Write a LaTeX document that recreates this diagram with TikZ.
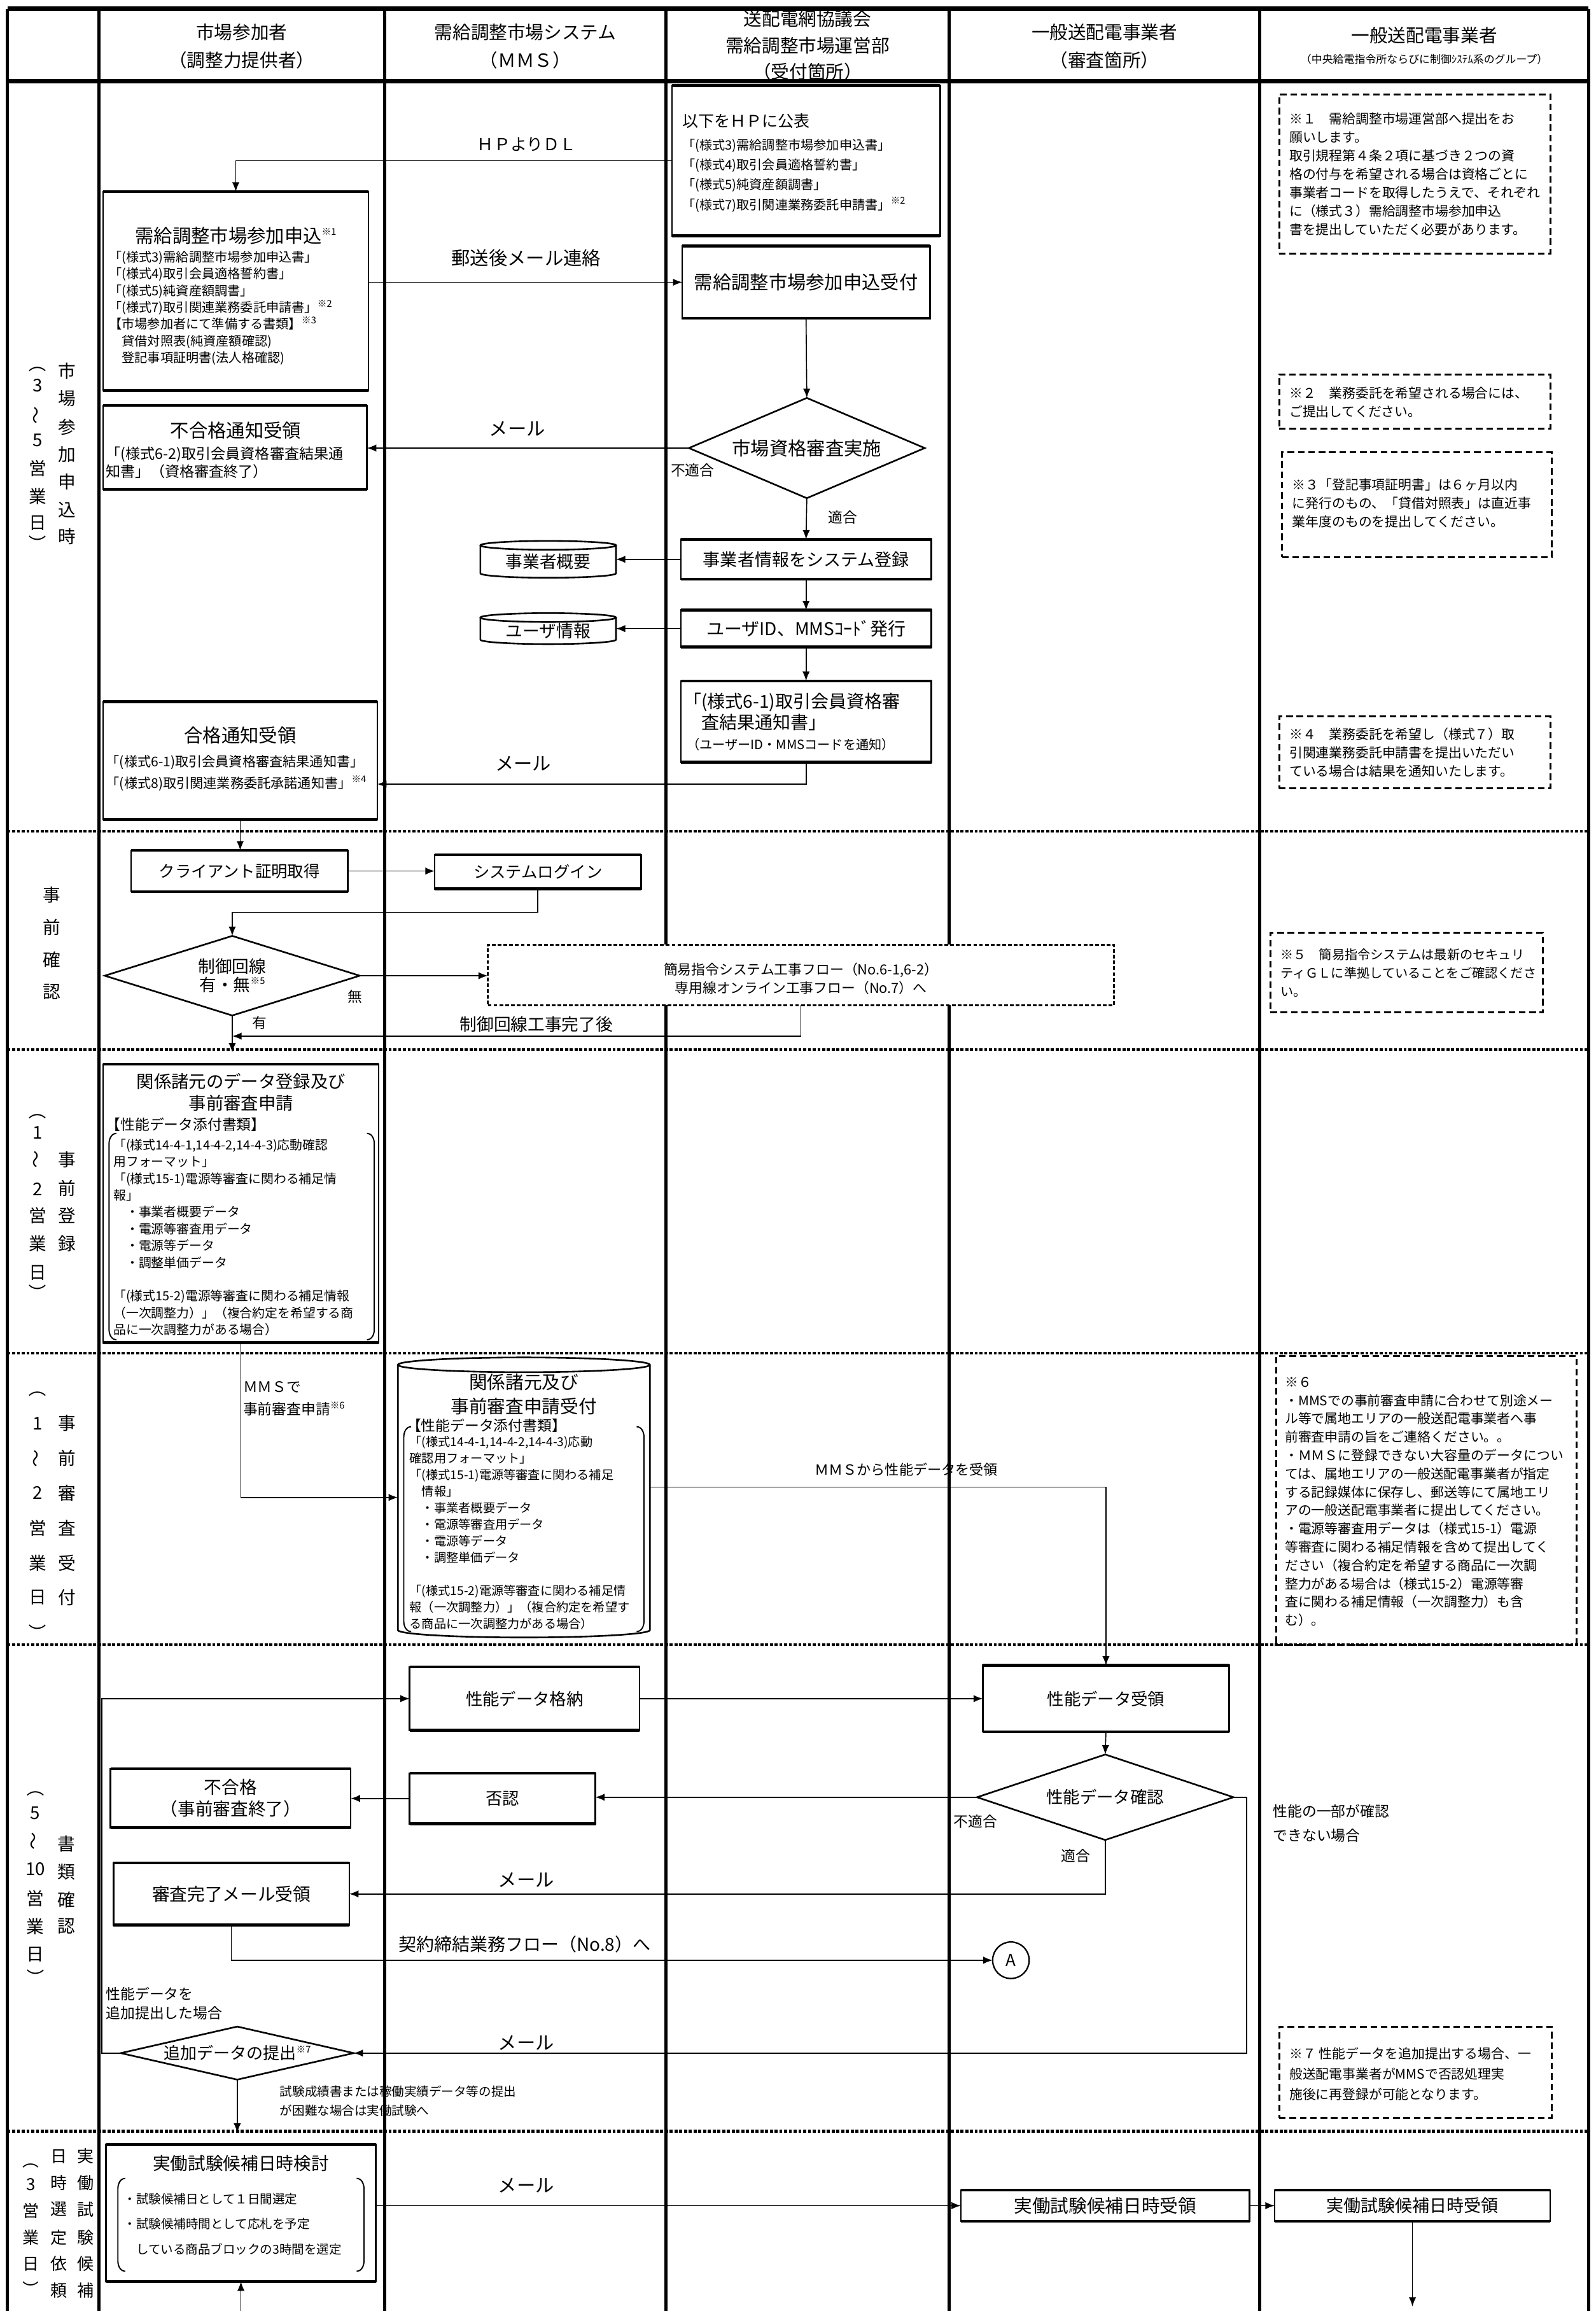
\documentclass[tikz,border=0pt]{standalone}
\usepackage{fontspec}
\setmainfont{Noto Sans CJK JP}
\usetikzlibrary{shapes.geometric,arrows.meta,fit,calc}
\newcommand\fsz[2]{\fontsize{#1}{#2}\selectfont}
\newcommand\supnote[1]{\raisebox{0.75ex}{\fontsize{4.5}{5}\selectfont #1}}
\newcommand\vtil{\rotatebox[origin=c]{90}{～}}
\newcommand\vop{\rotatebox[origin=c]{-90}{（}}
\newcommand\vcp{\rotatebox[origin=c]{-90}{）}}
\newcommand\drawcyl[3]{%
  \draw[cyl] (#1.north west) -- (#1.south west) arc[start angle=180,end angle=360,x radius=#2,y radius=#3] -- (#1.north east);
  \draw[cyl] (#1.north) ellipse[x radius=#2,y radius=#3];}
\newcommand\drawbrk[4]{%
  \draw[brk] (#1+5,#2) to[out=180,in=90] (#1,#2+7) -- (#1,#4-7) to[out=-90,in=180] (#1+5,#4);
  \draw[brk] (#3-5,#2) to[out=0,in=90] (#3,#2+7) -- (#3,#4-7) to[out=-90,in=0] (#3-5,#4);}
\newcommand\vcol[4]{\foreach \c/\y [count=\i] in {#4} \node[#3] (#1\i) at (#2,\y) {\c};}
\begin{document}
\begin{tikzpicture}[x=0.25mm, y=-0.25mm,
 every node/.style={inner sep=0pt, outer sep=0pt},
 box/.style={draw, line width=0.8pt},
 note/.style={draw, line width=0.9pt, dash pattern=on 3.2pt off 1.8pt},
 note2/.style={draw, fill=white, line width=0.9pt, dash pattern=on 1.8pt off 1pt},
 conn/.style={line width=0.5pt, -{Latex[length=4.5pt,width=3.5pt]}},
 cyl/.style={line width=0.8pt},
 brk/.style={line width=0.6pt},
 colline/.style={line width=1.5pt},
 hdr/.style={line width=2.2pt},
 sepl/.style={line width=1.3pt, dash pattern=on 1.5pt off 0.8pt},
 dia/.style={diamond, draw, line width=0.8pt, align=center},
 lt/.style={anchor=west, align=left},
 vl/.style={font=\fsz{8.5}{9}},
 vls/.style={font=\fsz{8}{9}},
 hd/.style={font=\fsz{8.8}{10}},
]
\fill[white] (0,0) rectangle (1083,1568);
\useasboundingbox (0,0) rectangle (1083,1568);
\clip (0,0) rectangle (1083,1568);

% ---------- frame ----------
\foreach \x in {5,67,261,452,644,855,1078} \draw[colline] (\x,6) -- (\x,1568);
\draw[hdr] (5,6) -- (1078,6);
\draw[hdr] (5,55) -- (1078,55);
\foreach \y in {564,712,918,1116,1446} \draw[sepl] (5,\y) -- (1078,\y);

% ---------- header ----------
\node[hd] (h1a) at (164,22) {市場参加者};
\node[hd] (h1b) at (164,41) {（調整力提供者）};
\node[hd] (h2a) at (356.5,22) {需給調整市場システム};
\node[hd] (h2b) at (356.5,41) {（ＭＭＳ）};
\node[hd] (h3a) at (548,13) {送配電網協議会};
\node[hd] (h3b) at (548,31) {需給調整市場運営部};
\node[hd] (h3c) at (548,48.5) {（受付箇所）};
\node[hd] (h4a) at (749.5,22) {一般送配電事業者};
\node[hd] (h4b) at (749.5,41) {（審査箇所）};
\node[hd] (h5a) at (966.5,24) {一般送配電事業者};
\node[font=\fsz{5.2}{6}] (h5b) at (966.5,40) {（中央給電指令所ならびに制御ｼｽﾃﾑ系のグループ）};

% ---------- vertical labels ----------
\vcol{va}{25.7}{vl}{{\vop}/246.6, 3/261.5, {\vtil}/282, 5/298.6, 営/317.7, 業/336.8, 日/355, {\vcp}/369}
\vcol{vb}{45.4}{vl}{市/251.6, 場/270.6, 参/289.6, 加/308.6, 申/326.8, 込/345.8, 時/364}
\vcol{vc}{35}{vl}{事/607, 前/629, 確/651, 認/673}
\vcol{vd}{25.7}{vl}{{\vop}/753.5, 1/768.6, {\vtil}/786.5, 2/807, 営/824.7, 業/844, 日/863.6, {\vcp}/877}
\vcol{ve}{45.4}{vl}{事/787, 前/806, 登/824.7, 録/844}
\vcol{vf}{25.7}{vl}{{\vop}/942, 1/965.7, {\vtil}/989.4, 2/1013, 営/1036.8, 業/1060.5, 日/1084, {\vcp}/1108}
\vcol{vg}{45.4}{vl}{事/965.7, 前/989.4, 審/1013, 査/1036.8, 受/1060.5, 付/1084}
\vcol{vh}{24}{vl}{{\vop}/1213, 5/1230, {\vtil}/1249, 10/1268, 営/1288, 業/1307, 日/1326, {\vcp}/1342}
\vcol{vi}{45}{vl}{書/1251, 類/1270, 確/1289, 認/1307}
\vcol{vj}{21}{vls}{{\vop}/1466, 3/1482, 営/1500, 業/1518, 日/1536, {\vcp}/1553}
\vcol{vk}{40}{vls}{日/1463, 時/1481, 選/1499, 定/1518, 依/1536, 頼/1554}
\vcol{vm}{58}{vls}{実/1463, 働/1481, 試/1499, 験/1518, 候/1536, 補/1554}

% ---------- section 1 ----------
\node[box, fit={(456,58) (638,160)}] (b1) {};
\node[lt, font=\fsz{7.7}{9}] (b1t) at (463,82) {以下をＨＰに公表};
\node[lt, font=\fsz{6.2}{9.6}] (b1l) at (463,119) {「(様式3)需給調整市場参加申込書」\\「(様式4)取引会員適格誓約書」\\「(様式5)純資産額調書」\\「(様式7)取引関連業務委託申請書」\supnote{※2}};

\node[box, fit={(70,130) (250,265)}] (b2) {};
\node[font=\fsz{9}{11}] (b2t) at (160,160) {需給調整市場参加申込\supnote{※1}};
\node[lt, font=\fsz{6.2}{8.1}] (b2l) at (74,209) {「(様式3)需給調整市場参加申込書」\\「(様式4)取引会員適格誓約書」\\「(様式5)純資産額調書」\\「(様式7)取引関連業務委託申請書」\supnote{※2}\\【市場参加者にて準備する書類】\supnote{※3}\\　貸借対照表(純資産額確認)\\　登記事項証明書(法人格確認)};

\draw[conn] (b1.west) -| (b2.north);
\node[font=\fsz{8}{10}] (lb1) at (357.5,98) {ＨＰよりＤＬ};

\node[box, fit={(463,167) (631,216)}] (b3) {};
\node[font=\fsz{9}{11}] (b3x) at (b3.center) {需給調整市場参加申込受付};
\draw[conn] (b2.east |- b3.west) -- (b3.west);
\node[font=\fsz{9}{11}] (lb2) at (357,175) {郵送後メール連絡};

\node[dia, minimum width=40mm, minimum height=17mm, shape aspect=2.35, font=\fsz{9}{11}] (d1) at (547.5,304) {市場資格審査実施};
\draw[conn] (b3.south) -- (d1.north);

\node[box, fit={(70,275) (249,332)}] (b4) {};
\node[font=\fsz{9}{11}] (b4t) at (160,292) {不合格通知受領};
\node[lt, font=\fsz{7.1}{8.6}] (b4l) at (72,314) {「(様式6-2)取引会員資格審査結果通\\知書」（資格審査終了）};
\draw[conn] (d1.west) -- (d1.west -| b4.east);
\node[font=\fsz{9}{11}] (lm1) at (351,291) {メール};
\node[font=\fsz{7}{8}] (lng1) at (470,319) {不適合};

\node[box, fit={(462,366) (632,393)}] (b5) {};
\node[font=\fsz{8.3}{10}] (b5x) at (b5.center) {事業者情報をシステム登録};
\draw[conn] (d1.south) -- (b5.north);
\node[font=\fsz{7}{8}] (lok1) at (572,351) {適合};
\node[fit={(326,370) (418,389)}] (cy1) {};
\drawcyl{cy1}{11.5mm}{0.75mm}
\node[font=\fsz{8.2}{9}] (cy1x) at ([yshift=-0.4mm]cy1.center) {事業者概要};
\draw[conn] (b5.west) -- (b5.west -| cy1.east);

\node[box, fit={(462,414) (632,439)}] (b6) {};
\node[font=\fsz{8.6}{10}] (b6x) at (b6.center) {ユーザID、MMSｺｰﾄﾞ発行};
\draw[conn] (b5.south) -- (b6.north);
\node[fit={(326,419) (418,434)}] (cy2) {};
\drawcyl{cy2}{11.5mm}{0.75mm}
\node[font=\fsz{8.2}{9}] (cy2x) at ([yshift=-0.4mm]cy2.center) {ユーザ情報};
\draw[conn] (b6.west) -- (b6.west -| cy2.east);

\node[box, fit={(462,462) (632,517)}] (b7) {};
\node[lt, font=\fsz{8.6}{10.2}] (b7a) at (464,483) {「(様式6-1)取引会員資格審\\　査結果通知書」};
\node[lt, font=\fsz{6.2}{7}] (b7b) at (466,505) {（ユーザーID・MMSコードを通知）};
\draw[conn] (b6.south) -- (b7.north);

\node[box, fit={(70,476) (256,556)}] (b8) {};
\node[font=\fsz{9}{11}] (b8t) at (163,499) {合格通知受領};
\node[lt, font=\fsz{6.5}{10.5}] (b8l) at (72,524.5) {「(様式6-1)取引会員資格審査結果通知書」\\「(様式8)取引関連業務委託承諾通知書」\supnote{※4}};
\draw[conn] (b7.south) |- ($(b8.south east)!0.3!(b8.north east)$);
\node[font=\fsz{9}{11}] (lm2) at (355,518) {メール};

\node[note, fit={(868,64) (1052,172)}] (n1) {};
\node[lt, font=\fsz{6.4}{8.9}] (n1t) at (875,118) {※１　需給調整市場運営部へ提出をお\\願いします。\\取引規程第４条２項に基づき２つの資\\格の付与を希望される場合は資格ごとに\\事業者コードを取得したうえで、それぞれ\\に（様式３）需給調整市場参加申込\\書を提出していただく必要があります。};
\node[note, fit={(868,254) (1052,291)}] (n2) {};
\node[lt, font=\fsz{6.4}{8.9}] (n2t) at (875,273) {※２　業務委託を希望される場合には、\\ご提出してください。};
\node[note, fit={(870,307) (1053,378)}] (n3) {};
\node[lt, font=\fsz{6.4}{8.9}] (n3t) at (877,341.5) {※３「登記事項証明書」は６ヶ月以内\\に発行のもの、「貸借対照表」は直近事\\業年度のものを提出してください。};
\node[note, fit={(868,486) (1052,535)}] (n4) {};
\node[lt, font=\fsz{6.4}{8.9}] (n4t) at (875,510.5) {※４　業務委託を希望し（様式７）取\\引関連業務委託申請書を提出いただい\\ている場合は結果を通知いたします。};

% ---------- section 2 ----------
\node[box, fit={(89,577) (236,605)}] (cl) {};
\node[font=\fsz{7.8}{9}] (clx) at (cl.center) {クライアント証明取得};
\node[box, fit={(295,580) (435,603)}] (lg) {};
\node[font=\fsz{7.8}{9}] (lgx) at (lg.center) {システムログイン};
\draw[conn] (b8.south) -- (b8.south |- cl.north);
\draw[conn] (cl.east) -- (cl.east -| lg.west);
\node[dia, minimum width=43.25mm, minimum height=13.5mm, shape aspect=3.2, font=\fsz{8.2}{8.7}] (d2) at (157.6,662) {制御回線\\有・無\supnote{※5}};
\draw[conn] (lg.south) -- ++(0,16) -| (d2.north);
\node[note2, fit={(331,641) (756,682)}] (db) {};
\node[font=\fsz{6.7}{8.8}, align=center] (dbx) at ([yshift=-0.6mm]db.center) {簡易指令システム工事フロー（No.6-1,6-2）\\専用線オンライン工事フロー（No.7）へ};
\draw[conn] (d2.east) -- (d2.east -| db.west);
\node[font=\fsz{7}{8}] (lnone) at (241,676) {無};
\node[font=\fsz{7}{8}] (lhas) at (176,694) {有};
\coordinate (j2) at (157.6,703);
\draw[conn] (db.south) |- (j2);
\node[font=\fsz{8.2}{9}] (lkj) at (364,695) {制御回線工事完了後};
\coordinate (a9) at (157.6,714);
\draw[conn] (d2.south) -- (a9);
\node[note, fit={(862,633) (1047,687)}] (n5) {};
\node[lt, font=\fsz{6.2}{8.9}] (n5t) at (869,660) {※５　簡易指令システムは最新のセキュリ\\ティＧＬに準拠していることをご確認くださ\\い。};

% ---------- section 3 ----------
\node[box, fit={(70,722) (257,911)}] (b9) {};
\node[font=\fsz{8.4}{10.2}, align=center] (b9t) at (163.6,741) {関係諸元のデータ登録及び\\事前審査申請};
\node[lt, font=\fsz{7}{8}] (b9h) at (72,763) {【性能データ添付書類】};
\drawbrk{74}{769}{254}{909}
\node[lt, font=\fsz{6.1}{8.1}] (b9l) at (77,839.5) {「(様式14-4-1,14-4-2,14-4-3)応動確認\\用フォーマット」\\「(様式15-1)電源等審査に関わる補足情\\報」\\　・事業者概要データ\\　・電源等審査用データ\\　・電源等データ\\　・調整単価データ\\\mbox{}\\「(様式15-2)電源等審査に関わる補足情報\\（一次調整力）」（複合約定を希望する商\\品に一次調整力がある場合）};

% ---------- section 4 ----------
\node[lt, font=\fsz{7}{8}] (lmms1) at (165,941) {ＭＭＳで};
\node[lt, font=\fsz{7}{8}] (lmms2) at (165,956) {事前審査申請\supnote{※6}};
\node[fit={(270,926) (441,1106)}] (c3) {};
\drawcyl{c3}{21.375mm}{1.25mm}
\draw[conn] (b9.south) |- (c3.west);
\node[font=\fsz{8.8}{11.4}, align=center] (c3t) at (355.5,946) {関係諸元及び\\事前審査申請受付};
\node[lt, font=\fsz{7}{8}] (c3h) at (276,967) {【性能データ添付書類】};
\drawbrk{274}{968}{437}{1107}
\node[lt, font=\fsz{5.9}{7.97}] (c3l) at (278,1040) {「(様式14-4-1,14-4-2,14-4-3)応動\\確認用フォーマット」\\「(様式15-1)電源等審査に関わる補足\\　情報」\\　・事業者概要データ\\　・電源等審査用データ\\　・電源等データ\\　・調整単価データ\\\mbox{}\\「(様式15-2)電源等審査に関わる補足情\\報（一次調整力）」（複合約定を希望す\\る商品に一次調整力がある場合）};
\node[font=\fsz{6.8}{8}] (lmms3) at (615,997) {ＭＭＳから性能データを受領};

\node[note, fit={(866,920) (1070,1116)}] (n6) {};
\node[lt, font=\fsz{6.4}{8.85}] (n6t) at (872,1019) {※６\\・MMSでの事前審査申請に合わせて別途メー\\ル等で属地エリアの一般送配電事業者へ事\\前審査申請の旨をご連絡ください。。\\・ＭＭＳに登録できない大容量のデータについ\\ては、属地エリアの一般送配電事業者が指定\\する記録媒体に保存し、郵送等にて属地エリ\\アの一般送配電事業者に提出してください。\\・電源等審査用データは（様式15-1）電源\\等審査に関わる補足情報を含めて提出してく\\ださい（複合約定を希望する商品に一次調\\整力がある場合は（様式15-2）電源等審\\査に関わる補足情報（一次調整力）も含\\む）。};

% ---------- section 5 ----------
\node[box, fit={(278,1131) (434,1174)}] (r2) {};
\node[font=\fsz{8.1}{9}] (r2x) at (r2.center) {性能データ格納};
\node[box, fit={(667,1130) (834,1175)}] (r1) {};
\node[font=\fsz{8.1}{9}] (r1x) at (r1.center) {性能データ受領};
\draw[conn] (c3.east |- 0,1009) -| (r1.north);
\draw[conn] (r2.east) -- (r2.east -| r1.west);
\node[dia, minimum width=43.5mm, minimum height=14.5mm, shape aspect=3, font=\fsz{8.1}{9}] (d3) at (750,1219.4) {性能データ確認};
\draw[conn] (r1.south) -- (d3.north);
\node[box, fit={(278,1203) (404,1237.5)}] (r3) {};
\node[font=\fsz{8.1}{9}] (r3x) at (r3.center) {否認};
\draw[conn] (d3.west) -- (d3.west -| r3.east);
\node[box, fit={(75,1200) (238,1240)}] (r4) {};
\node[font=\fsz{8.5}{10.5}, align=center] (r4x) at (r4.center) {不合格\\（事前審査終了）};
\draw[conn] (r3.west) -- (r3.west -| r4.east);
\node[font=\fsz{7}{8}] (lng2) at (662,1236) {不適合};
\node[font=\fsz{7}{8}] (lok2) at (730,1259) {適合};
\node[box, fit={(77,1264) (237,1306)}] (r5) {};
\node[font=\fsz{8.5}{10}] (r5x) at (r5.center) {審査完了メール受領};
\draw[conn] (d3.south) |- (r5.east);
\node[font=\fsz{9}{11}] (lm3) at (357,1275.5) {メール};
\node[circle, draw, line width=0.7pt, minimum size=6.2mm, font=\fsz{8}{9}] (ca) at (686,1330) {A};
\draw[conn] (r5.south) |- (ca.west);
\node[font=\fsz{8.6}{10}] (lk8) at (356,1319) {契約締結業務フロー（No.8）へ};
\node[lt, font=\fsz{7}{11.7}] (lpart) at (864,1237) {性能の一部が確認\\できない場合};
\node[dia, minimum width=39.5mm, minimum height=9mm, shape aspect=4.4, font=\fsz{8}{9}] (d4) at (161,1393) {追加データの提出\supnote{※7}};
\draw[conn] (d3.east) -- ++(9,0) |- (d4.east);
\node[font=\fsz{9}{11}] (lm4) at (357,1386) {メール};
\draw[conn] (d4.west) -- ++(-13,0) |- (r2.west);
\node[lt, font=\fsz{7}{9.2}] (ladd) at (72,1359.5) {性能データを\\追加提出した場合};
\coordinate (a14) at (161,1447);
\draw[conn] (d4.south) -- (a14);
\node[lt, font=\fsz{6}{9.2}] (ltest) at (190,1425.5) {試験成績書または稼働実績データ等の提出\\が困難な場合は実働試験へ};
\node[note, fit={(868,1375) (1053,1437)}] (n7) {};
\node[lt, font=\fsz{6.4}{9.8}] (n7t) at (875,1407) {※７ 性能データを追加提出する場合、一\\般送配電事業者がMMSで否認処理実\\施後に再登録が可能となります。};

% ---------- section 6 ----------
\node[box, fit={(72,1455) (255,1548)}] (r6) {};
\node[font=\fsz{8.5}{10}] (r6t) at (163.5,1468) {実働試験候補日時検討};
\drawbrk{80}{1478}{247}{1541}
\node[lt, font=\fsz{6}{12.1}] (r6l) at (84,1509) {・試験候補日として１日間選定\\・試験候補時間として応札を予定\\　している商品ブロックの3時間を選定};
\coordinate (bot1) at (163.5,1580);
\draw[conn] (bot1) -- (r6.south);
\node[box, fit={(652,1486) (848,1507)}] (r7) {};
\node[font=\fsz{8.8}{10}] (r7x) at (r7.center) {実働試験候補日時受領};
\draw[conn] (r6.east |- r7.west) -- (r7.west);
\node[font=\fsz{9}{11}] (lm5) at (357,1483) {メール};
\node[box, fit={(865,1486) (1052,1507)}] (r8) {};
\node[font=\fsz{8.3}{10}] (r8x) at (r8.center) {実働試験候補日時受領};
\draw[conn] (r7.east) -- (r8.west);
\coordinate (bot2) at (958.5,1565);
\draw[conn] (r8.south) -- (bot2);

% thick top/bottom edges
\foreach \n in {b1,b2,b3,b4,b5,b6,b7,b8,cl,lg,b9,r1,r2,r3,r4,r5,r6,r7,r8}
  \draw[line width=1.4pt] (\n.north west) -- (\n.north east) (\n.south west) -- (\n.south east);
\end{tikzpicture}
\end{document}
